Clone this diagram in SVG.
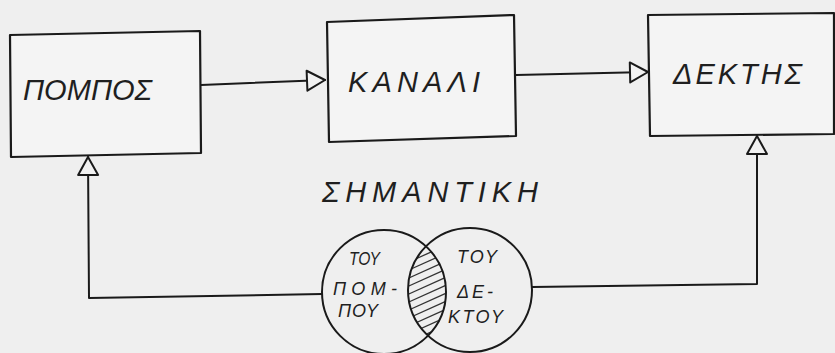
<svg xmlns="http://www.w3.org/2000/svg" width="835" height="353" viewBox="0 0 835 353">
<style>
.ln{fill:none;stroke:#1a1a1a;stroke-width:2;stroke-linejoin:round;stroke-linecap:round}
.box{fill:#f4f4f4;stroke:#1a1a1a;stroke-width:2.2;stroke-linejoin:round}
.circ{fill:none;stroke:#1a1a1a;stroke-width:2}
.t{font-family:"Liberation Sans","DejaVu Sans",sans-serif;font-style:italic;fill:#1f1f1f}
.big{font-size:29px}
.sm{font-size:18px}
.hatch{stroke:#333;stroke-width:1.3}
</style>
<defs>
<marker id="arr" markerWidth="24" markerHeight="24" refX="20" refY="12" orient="auto" markerUnits="userSpaceOnUse">
<path d="M2,2 L20,12 L2,22 Z" fill="#f2f2f2" stroke="#1a1a1a" stroke-width="2" stroke-linejoin="round"/>
</marker>
<clipPath id="c1"><circle cx="384" cy="292" r="62"/></clipPath>
<clipPath id="c2"><circle cx="470" cy="290" r="62"/></clipPath>
</defs>
<rect width="835" height="353" fill="#efefef"/>
<g id="connectors">
<path class="ln" d="M201,85 L325,80" marker-end="url(#arr)"/>
<path class="ln" d="M516,75 L648,72" marker-end="url(#arr)"/>
<path class="ln" d="M322,294 L89,298 L88,157" marker-end="url(#arr)"/>
<path class="ln" d="M532,287 L757,284 L757,136" marker-end="url(#arr)"/>
</g>
<g id="pompos">
<polygon class="box" points="10,35 200,31 201,153 11,157"/>
<text class="t big" x="23" y="100" textLength="129" lengthAdjust="spacingAndGlyphs">ΠΟΜΠΟΣ</text>
</g>
<g id="kanali">
<polygon class="box" points="327,22 514,15 516,136 329,142"/>
<text class="t big" x="348" y="92" textLength="132" lengthAdjust="spacing">ΚΑΝΑΛΙ</text>
</g>
<g id="dektis">
<polygon class="box" points="648,15 834,13 834,134 650,136"/>
<text class="t big" x="673" y="84" textLength="129" lengthAdjust="spacing">ΔΕΚΤΗΣ</text>
</g>
<g id="simantiki">
<text class="t big" x="322" y="202" textLength="216" lengthAdjust="spacing">ΣΗΜΑΝΤΙΚΗ</text>
<g clip-path="url(#c1)"><g clip-path="url(#c2)">
<g class="hatch">
<line x1="400" y1="258" x2="460" y2="231"/>
<line x1="400" y1="266" x2="460" y2="239"/>
<line x1="400" y1="274" x2="460" y2="247"/>
<line x1="400" y1="282" x2="460" y2="255"/>
<line x1="400" y1="290" x2="460" y2="263"/>
<line x1="400" y1="298" x2="460" y2="271"/>
<line x1="400" y1="306" x2="460" y2="279"/>
<line x1="400" y1="314" x2="460" y2="287"/>
<line x1="400" y1="322" x2="460" y2="295"/>
<line x1="400" y1="330" x2="460" y2="303"/>
<line x1="400" y1="338" x2="460" y2="311"/>
<line x1="400" y1="346" x2="460" y2="319"/>
<line x1="400" y1="354" x2="460" y2="327"/>
<line x1="400" y1="362" x2="460" y2="335"/>
</g>
</g></g>
<circle class="circ" cx="384" cy="292" r="62"/>
<circle class="circ" cx="470" cy="290" r="62"/>
<text class="t sm" x="349" y="265" textLength="31" lengthAdjust="spacingAndGlyphs">ΤΟΥ</text>
<text class="t sm" x="333" y="295" textLength="64" lengthAdjust="spacing">ΠΟΜ-</text>
<text class="t sm" x="338" y="317" textLength="40" lengthAdjust="spacing">ΠΟΥ</text>
<text class="t sm" x="457" y="263" textLength="40" lengthAdjust="spacing">ΤΟΥ</text>
<text class="t sm" x="457" y="298" textLength="36" lengthAdjust="spacing">ΔΕ-</text>
<text class="t sm" x="448" y="323" textLength="55" lengthAdjust="spacing">ΚΤΟΥ</text>
</g>
</svg>
